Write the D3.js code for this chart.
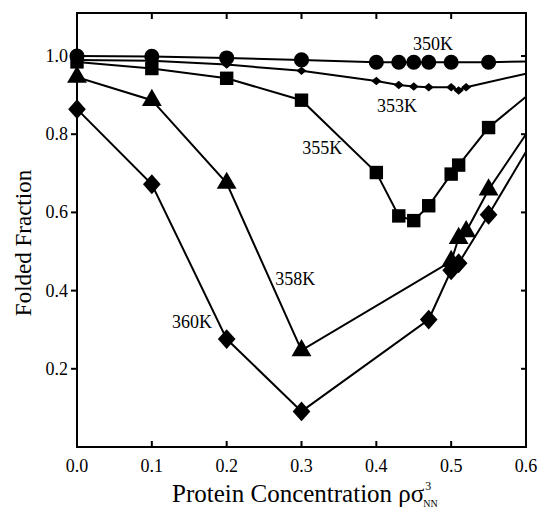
<html>
<head>
  <style>
  body { margin: 0; background: #fff; }
  #chart text { font-family: "Liberation Serif", "Times New Roman", serif; fill: #000; }
  .tick-label { font-size: 18px; }
  .curve-label { font-size: 18px; }
  .axis-title { font-size: 23px; }
  </style>
  <script src="https://d3js.org/d3.v7.min.js"></script>
</head>
<body>
  <svg id="chart"></svg>
</body>
  <script>

  // protein concentration (x) and folded fraction (y) for each temperature
  var conc350 = [0, 0.1, 0.2, 0.3, 0.4, 0.43, 0.45, 0.47, 0.5, 0.55, 0.6],
      frac350 = [1.0, 0.999, 0.995, 0.99, 0.984, 0.984, 0.984, 0.984, 0.984, 0.984, 0.986];

  var conc353 = [0, 0.1, 0.2, 0.3, 0.4, 0.43, 0.45, 0.47, 0.5, 0.51, 0.52, 0.6],
      frac353 = [0.99, 0.988, 0.978, 0.962, 0.936, 0.926, 0.922, 0.92, 0.92, 0.912, 0.92, 0.955];

  var conc355 = [0, 0.1, 0.2, 0.3, 0.4, 0.43, 0.45, 0.47, 0.5, 0.51, 0.55, 0.6],
      frac355 = [0.985, 0.968, 0.943, 0.887, 0.702, 0.591, 0.579, 0.617, 0.698, 0.721, 0.817, 0.896];

  var conc358 = [0, 0.1, 0.2, 0.3, 0.5, 0.51, 0.52, 0.55, 0.6],
      frac358 = [0.946, 0.887, 0.675, 0.247, 0.475, 0.534, 0.551, 0.658, 0.80];

  var conc360 = [0, 0.1, 0.2, 0.3, 0.47, 0.5, 0.51, 0.55, 0.6],
      frac360 = [0.864, 0.672, 0.276, 0.091, 0.326, 0.452, 0.47, 0.594, 0.755];

  var xTicks = [0, 0.1, 0.2, 0.3, 0.4, 0.5, 0.6],
      yTicks = [0.2, 0.4, 0.6, 0.8, 1.0];

  // label text and where it sits, in data units
  var labelText = ["350K", "353K", "355K", "358K", "360K"],
      labelX = [0.449, 0.401, 0.301, 0.265, 0.127],
      labelY = [1.015, 0.857, 0.749, 0.414, 0.304];

  var W = 539, H = 514;
  var pL = 77, pT = 13, pR = 526, pB = 447;

  var x = d3.scaleLinear().domain([0, 0.6]).range([pL, pR]);
  var y = d3.scaleLinear().domain([0, 1.11]).range([pB, pT]);

  var svg = d3.select("#chart").attr("width", W).attr("height", H);

  svg.append("clipPath").attr("id", "plot")
    .append("rect")
      .attr("x", pL).attr("y", pT)
      .attr("width", pR - pL).attr("height", pB - pT);

  // square-ish diamond (d3's own is too narrow); ratio = height / width
  function diamond(ratio) {
    return {
      draw: function(ctx, size) {
        var w = Math.sqrt(size / (2 * ratio)), h = w * ratio;
        ctx.moveTo(0, -h); ctx.lineTo(w, 0); ctx.lineTo(0, h); ctx.lineTo(-w, 0); ctx.closePath();
      }
    };
  }

  var series = [
    {xs: conc350, ys: frac350, shape: "circle"},
    {xs: conc353, ys: frac353, shape: "smalldiamond"},
    {xs: conc355, ys: frac355, shape: "square"},
    {xs: conc358, ys: frac358, shape: "triangle"},
    {xs: conc360, ys: frac360, shape: "diamond"}
  ];

  var symbols = {
    circle: d3.symbol().type(d3.symbolCircle).size(180),
    square: d3.symbol().type(d3.symbolSquare).size(180),
    triangle: d3.symbol().type(d3.symbolTriangle).size(170),
    diamond: d3.symbol().type(diamond(1.12)).size(175),
    smalldiamond: d3.symbol().type(diamond(0.85)).size(42)
  };

  var line = d3.line()
      .x(function(d) { return x(d[0]); })
      .y(function(d) { return y(d[1]); });

  var g = svg.append("g").attr("clip-path", "url(#plot)");

  series.forEach(function(s) {
    var pts = s.xs.map(function(v, i) { return [v, s.ys[i]]; });
    g.append("path")
        .datum(pts)
        .attr("d", line)
        .attr("fill", "none")
        .attr("stroke", "#000")
        .attr("stroke-width", 2);
    // the end point at the edge only carries the line
    svg.selectAll(null)
        .data(pts.filter(function(d) { return d[0] < 0.6; }))
      .enter().append("path")
        .attr("d", symbols[s.shape])
        .attr("transform", function(d) { return "translate(" + x(d[0]) + "," + y(d[1]) + ")"; })
        .attr("fill", "#000");
  });

  // frame
  svg.append("rect")
      .attr("x", pL).attr("y", pT)
      .attr("width", pR - pL).attr("height", pB - pT)
      .attr("fill", "none").attr("stroke", "#000").attr("stroke-width", 2);

  // ticks: bottom & top inward, left outward, right inward
  var inner = xTicks.filter(function(d) { return d > 0 && d < 0.6; });
  svg.selectAll(".tb").data(inner).enter().append("line")
      .attr("x1", x).attr("x2", x).attr("y1", pB).attr("y2", pB - 6)
      .attr("stroke", "#000").attr("stroke-width", 2);
  svg.selectAll(".tt").data(inner).enter().append("line")
      .attr("x1", x).attr("x2", x).attr("y1", pT).attr("y2", pT + 6)
      .attr("stroke", "#000").attr("stroke-width", 2);
  svg.selectAll(".tl").data(yTicks).enter().append("line")
      .attr("x1", pL).attr("x2", pL - 6).attr("y1", y).attr("y2", y)
      .attr("stroke", "#000").attr("stroke-width", 2);
  svg.selectAll(".tr").data(yTicks).enter().append("line")
      .attr("x1", pR).attr("x2", pR - 5).attr("y1", y).attr("y2", y)
      .attr("stroke", "#000").attr("stroke-width", 2);

  svg.selectAll(".xl").data(xTicks).enter().append("text")
      .attr("class", "tick-label")
      .attr("x", x).attr("y", pB + 25)
      .attr("text-anchor", "middle")
      .text(function(d) { return d.toFixed(1); });

  svg.selectAll(".yl").data(yTicks).enter().append("text")
      .attr("class", "tick-label")
      .attr("x", pL - 9).attr("y", function(d) { return y(d) + 6; })
      .attr("text-anchor", "end")
      .text(function(d) { return d.toFixed(1); });

  svg.selectAll(".cl").data(labelText).enter().append("text")
      .attr("class", "curve-label")
      .attr("x", function(d, i) { return x(labelX[i]); })
      .attr("y", function(d, i) { return y(labelY[i]); })
      .text(function(d) { return d; });

  // axis titles
  svg.append("text")
      .attr("class", "axis-title")
      .attr("transform", "translate(31,243) rotate(-90)")
      .attr("text-anchor", "middle")
      .text("Folded Fraction");

  var xt = svg.append("text")
      .attr("class", "axis-title")
      .style("font-size", "25px")
      .attr("x", 172).attr("y", 502);
  xt.append("tspan").text("Protein Concentration ρσ");
  xt.append("tspan").attr("dx", 1).attr("dy", -12).style("font-size", "12px").text("3");
  xt.append("tspan").attr("dx", -8).attr("dy", 17).style("font-size", "10px").text("NN");

  </script>
</html>
